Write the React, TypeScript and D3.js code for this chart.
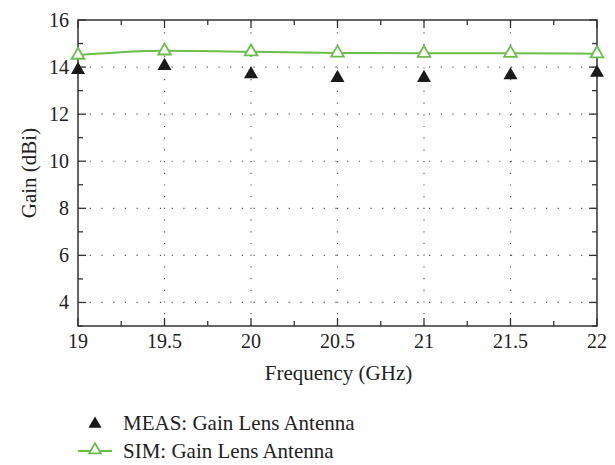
import React, { useEffect, useRef } from 'react';
import * as d3 from 'd3';

const freqs = [19, 19.5, 20, 20.5, 21, 21.5, 22];
const measGain = [13.88, 14.05, 13.7, 13.54, 13.54, 13.65, 13.76];
const simGain = [14.51, 14.69, 14.65, 14.6, 14.59, 14.59, 14.57];
const xTicks = [19, 19.5, 20, 20.5, 21, 21.5, 22];
const yTicks = [4, 6, 8, 10, 12, 14, 16];

const W = 615;
const H = 465;
const margin = { left: 78, top: 20, right: 18, bottom: 139 };
const green = '#6cbd4c';
const font = '"Liberation Serif", "DejaVu Serif", serif';

export default function App() {
  const ref = useRef<SVGSVGElement>(null);

  useEffect(() => {
    const svg = d3.select(ref.current);
    svg.selectAll('*').remove();

    const x = d3.scaleLinear().domain([19, 22]).range([margin.left, W - margin.right]);
    const y = d3.scaleLinear().domain([3, 16]).range([H - margin.bottom, margin.top]);
    const x0 = x.range()[0], x1 = x.range()[1];
    const y0 = y.range()[0], y1 = y.range()[1];

    // dotted grid
    const grid = svg.append('g').attr('stroke', '#555').attr('stroke-width', 1.2)
      .attr('stroke-dasharray', '1.2,10.5');
    grid.selectAll('.gx').data(xTicks.slice(1, -1)).enter().append('line')
      .attr('x1', d => x(d)).attr('x2', d => x(d)).attr('y1', y0).attr('y2', y1);
    grid.selectAll('.gy').data(yTicks.filter(d => d < 16)).enter().append('line')
      .attr('y1', d => y(d)).attr('y2', d => y(d)).attr('x1', x0).attr('x2', x1);

    // ticks, pointing inward on all four sides
    const minorX = d3.range(19, 22.001, 0.25);
    const minorY = d3.range(3, 16.001, 1);
    const tk = svg.append('g').attr('stroke', '#333').attr('stroke-width', 1.3);
    minorX.forEach(v => {
      const major = xTicks.includes(v);
      const len = major ? 8 : 5;
      tk.append('line').attr('x1', x(v)).attr('x2', x(v)).attr('y1', y0).attr('y2', y0 - len);
      tk.append('line').attr('x1', x(v)).attr('x2', x(v)).attr('y1', y1).attr('y2', y1 + len);
    });
    minorY.forEach(v => {
      const major = yTicks.includes(v);
      const len = major ? 8 : 5;
      tk.append('line').attr('y1', y(v)).attr('y2', y(v)).attr('x1', x0).attr('x2', x0 + len);
      tk.append('line').attr('y1', y(v)).attr('y2', y(v)).attr('x1', x1).attr('x2', x1 - len);
    });

    // frame
    svg.append('rect').attr('x', x0).attr('y', y1).attr('width', x1 - x0).attr('height', y0 - y1)
      .attr('fill', 'none').attr('stroke', '#333').attr('stroke-width', 1.5);

    // tick labels
    svg.append('g').selectAll('text').data(xTicks).enter().append('text')
      .attr('x', d => x(d)).attr('y', y0 + 22).attr('text-anchor', 'middle')
      .style('font-family', font).style('font-size', '20px').attr('fill', '#222')
      .text(d => String(d));
    svg.append('g').selectAll('text').data(yTicks).enter().append('text')
      .attr('x', x0 - 9).attr('y', d => y(d) + 6.5).attr('text-anchor', 'end')
      .style('font-family', font).style('font-size', '20px').attr('fill', '#222')
      .text(d => String(d));

    // axis titles
    svg.append('text').attr('x', (x0 + x1) / 2 + 1).attr('y', y0 + 54).attr('text-anchor', 'middle')
      .style('font-family', font).style('font-size', '21px').attr('fill', '#222')
      .text('Frequency (GHz)');
    svg.append('text').attr('transform', `translate(36,${(y0 + y1) / 2}) rotate(-90)`)
      .attr('text-anchor', 'middle')
      .style('font-family', font).style('font-size', '21px').attr('fill', '#222')
      .text('Gain (dBi)');

    const tri = d3.symbol().type(d3.symbolTriangle);

    // SIM line
    const line = d3.line<number>().x((d, i) => x(freqs[i])).y(d => y(d)).curve(d3.curveMonotoneX);
    svg.append('path').datum(simGain).attr('d', line).attr('fill', 'none')
      .attr('stroke', green).attr('stroke-width', 2);
    svg.append('g').selectAll('path').data(simGain).enter().append('path')
      .attr('d', tri.size(70)())
      .attr('transform', (d, i) => `translate(${x(freqs[i])},${y(d)})`)
      .attr('fill', 'white').attr('stroke', green).attr('stroke-width', 1.8);

    // MEAS markers
    svg.append('g').selectAll('path').data(measGain).enter().append('path')
      .attr('d', tri.size(85)())
      .attr('transform', (d, i) => `translate(${x(freqs[i])},${y(d)})`)
      .attr('fill', '#1a1a1a');

    // legend
    const lg = svg.append('g');
    lg.append('path').attr('d', tri.size(75)()).attr('transform', 'translate(95,424)').attr('fill', '#1a1a1a');
    lg.append('text').attr('x', 123).attr('y', 430)
      .style('font-family', font).style('font-size', '21px').attr('fill', '#222')
      .text('MEAS: Gain Lens Antenna');
    lg.append('line').attr('x1', 78).attr('x2', 112).attr('y1', 451).attr('y2', 451)
      .attr('stroke', green).attr('stroke-width', 2);
    lg.append('path').attr('d', tri.size(60)()).attr('transform', 'translate(95,450)')
      .attr('fill', 'white').attr('stroke', green).attr('stroke-width', 1.8);
    lg.append('text').attr('x', 123).attr('y', 458)
      .style('font-family', font).style('font-size', '21px').attr('fill', '#222')
      .text('SIM: Gain Lens Antenna');
  }, []);

  return (
    <svg ref={ref} width={W} height={H}
      style={{ position: 'absolute', left: 0, top: 0, background: 'white' }} />
  );
}
